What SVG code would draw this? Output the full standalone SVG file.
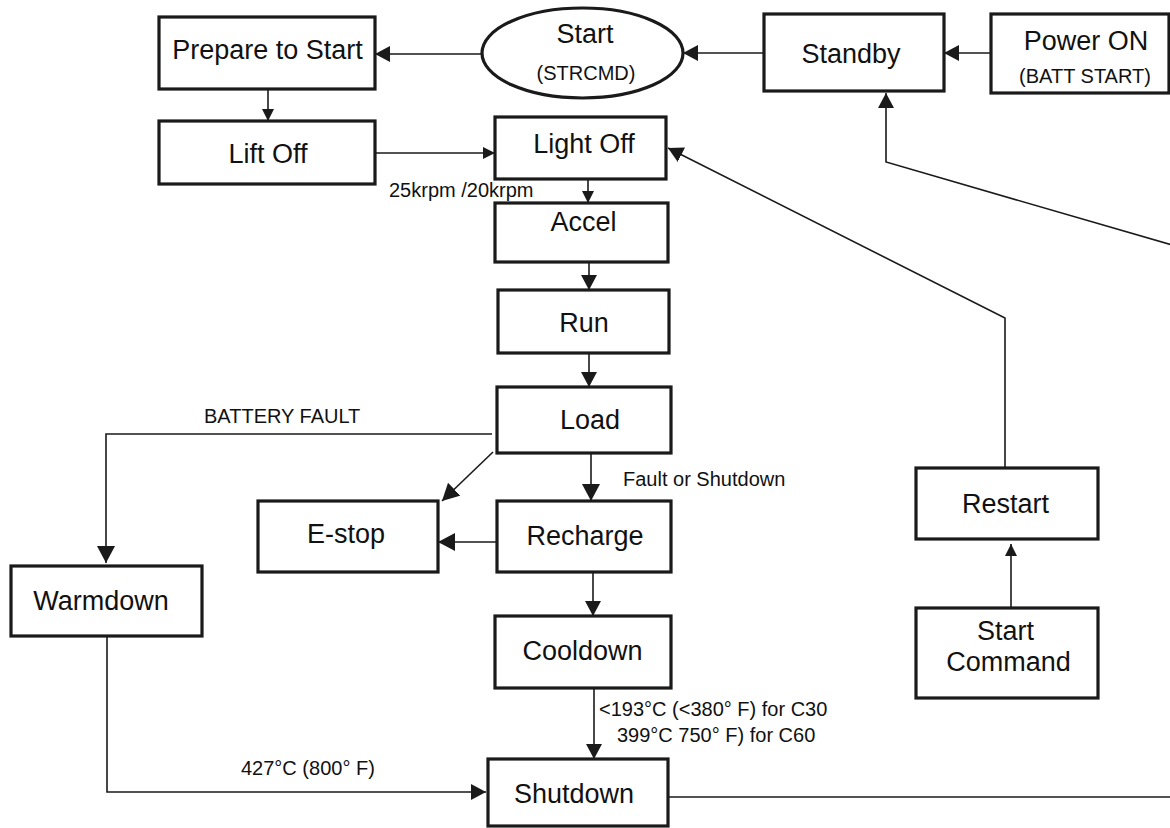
<svg xmlns="http://www.w3.org/2000/svg" width="1170" height="828" viewBox="0 0 1170 828">
<style>
.box{fill:#fff;stroke:#1a1a1a;stroke-width:3.2}
.t{font-family:"Liberation Sans",Arial,sans-serif;font-size:27px;fill:#111;text-anchor:middle}
.s{font-family:"Liberation Sans",Arial,sans-serif;font-size:20px;fill:#111}
.c{fill:none;stroke:#1a1a1a;stroke-width:1.6}
</style>
<defs>
<marker id="sm" markerUnits="userSpaceOnUse" markerWidth="12" markerHeight="12" refX="12" refY="6" orient="auto"><path d="M0,0 L12,6 L0,12 z" fill="#1a1a1a"/></marker>
<marker id="md" markerUnits="userSpaceOnUse" markerWidth="15" markerHeight="16" refX="15" refY="8" orient="auto"><path d="M0,0 L15,8 L0,16 z" fill="#1a1a1a"/></marker>
<marker id="lg" markerUnits="userSpaceOnUse" markerWidth="17" markerHeight="18" refX="17" refY="9" orient="auto"><path d="M0,0 L17,9 L0,18 z" fill="#1a1a1a"/></marker>
</defs>
<rect width="1170" height="828" fill="#fff"/>
<g id="connectors">
<line class="c" x1="991" y1="53" x2="944" y2="53" marker-end="url(#md)"/>
<line class="c" x1="764" y1="53" x2="683" y2="53" marker-end="url(#md)"/>
<line class="c" x1="482" y1="54" x2="375" y2="54" marker-end="url(#md)"/>
<line class="c" x1="268" y1="89" x2="268" y2="121" marker-end="url(#sm)"/>
<line class="c" x1="375" y1="153" x2="495" y2="153" marker-end="url(#sm)"/>
<line class="c" x1="588" y1="179" x2="588" y2="203" marker-end="url(#sm)"/>
<line class="c" x1="589" y1="262" x2="589" y2="290" marker-end="url(#md)"/>
<line class="c" x1="589" y1="353" x2="589" y2="387" marker-end="url(#md)"/>
<line class="c" x1="591" y1="453" x2="591" y2="501" marker-end="url(#lg)"/>
<line class="c" x1="493" y1="452" x2="442" y2="501" marker-end="url(#lg)"/>
<line class="c" x1="497" y1="542" x2="438" y2="542" marker-end="url(#lg)"/>
<polyline class="c" points="492,434 106,434 106,563" marker-end="url(#lg)"/>
<line class="c" x1="593" y1="572" x2="593" y2="616" marker-end="url(#md)"/>
<line class="c" x1="594" y1="688" x2="594" y2="759" marker-end="url(#md)"/>
<polyline class="c" points="107,636 107,792 486,792" marker-end="url(#md)"/>
<line class="c" x1="668" y1="797" x2="1172" y2="797"/>
<polyline class="c" points="1172,245 886,162 886,93" marker-end="url(#md)"/>
<polyline class="c" points="1005,468 1005,318 668,148" marker-end="url(#md)"/>
<line class="c" x1="1011" y1="608" x2="1011" y2="544" marker-end="url(#sm)"/>
</g>
<g id="labels">
<text class="s" x="389" y="197">25krpm /20krpm</text>
<text class="s" x="204" y="423">BATTERY FAULT</text>
<text class="s" x="623" y="486">Fault or Shutdown</text>
<text class="s" x="599" y="716">&lt;193°C (&lt;380° F) for C30</text>
<text class="s" x="617" y="742">399°C 750° F) for C60</text>
<text class="s" x="241" y="775">427°C (800° F)</text>
</g>
<g id="power-on"><rect class="box" x="991" y="14" width="178" height="79"/><text class="t" x="1086" y="50">Power ON</text><text class="s" x="1085" y="83" text-anchor="middle">(BATT START)</text></g>
<g id="standby"><rect class="box" x="764" y="14" width="180" height="77"/><text class="t" x="851" y="63">Standby</text></g>
<g id="start"><ellipse fill="#fff" stroke="#1a1a1a" stroke-width="3.2" cx="582.5" cy="53" rx="100.5" ry="45"/><text class="t" x="585" y="43">Start</text><text class="s" x="586" y="80" text-anchor="middle">(STRCMD)</text></g>
<g id="prepare"><rect class="box" x="159" y="17" width="216" height="72"/><text class="t" x="267.5" y="59">Prepare to Start</text></g>
<g id="lift-off"><rect class="box" x="159" y="121" width="216" height="63"/><text class="t" x="268" y="163">Lift Off</text></g>
<g id="light-off"><rect class="box" x="495" y="117" width="171" height="62"/><text class="t" x="584" y="153">Light Off</text></g>
<g id="accel"><rect class="box" x="495" y="203" width="173" height="59"/><text class="t" x="583.5" y="231">Accel</text></g>
<g id="run"><rect class="box" x="498" y="290" width="171" height="63"/><text class="t" x="584" y="332">Run</text></g>
<g id="load"><rect class="box" x="497" y="387" width="174" height="66"/><text class="t" x="590" y="429">Load</text></g>
<g id="estop"><rect class="box" x="258" y="501" width="180" height="71"/><text class="t" x="346" y="543">E-stop</text></g>
<g id="recharge"><rect class="box" x="497" y="501" width="174" height="71"/><text class="t" x="585" y="545">Recharge</text></g>
<g id="warmdown"><rect class="box" x="11" y="566" width="191" height="70"/><text class="t" x="101" y="610">Warmdown</text></g>
<g id="cooldown"><rect class="box" x="495" y="616" width="176" height="72"/><text class="t" x="582.5" y="660">Cooldown</text></g>
<g id="shutdown"><rect class="box" x="488" y="759" width="180" height="67"/><text class="t" x="574" y="803">Shutdown</text></g>
<g id="restart"><rect class="box" x="916" y="468" width="182" height="71"/><text class="t" x="1005.5" y="513">Restart</text></g>
<g id="start-command"><rect class="box" x="916" y="608" width="182" height="90"/><text class="t" x="1005.5" y="640">Start</text><text class="t" x="1008.5" y="671">Command</text></g>
</svg>
